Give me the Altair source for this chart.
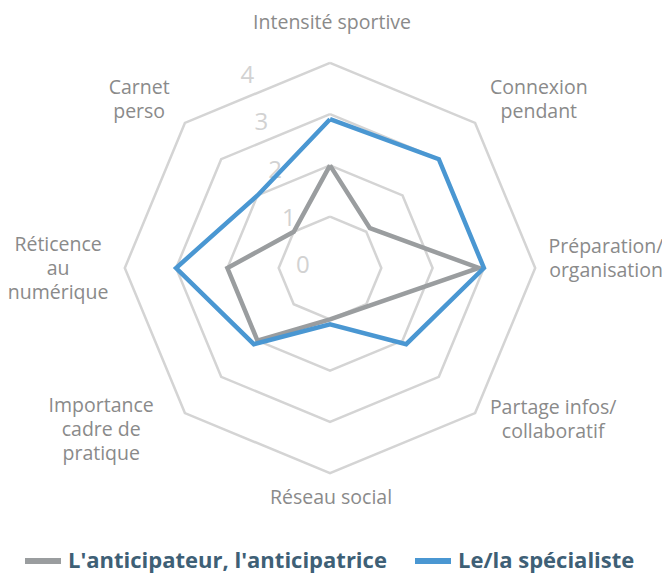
import altair as alt
import pandas as pd

# ---------------- data ----------------
categories = [
    "Intensité sportive",
    "Connexion\npendant",
    "Préparation/\norganisation",
    "Partage infos/\ncollaboratif",
    "Réseau social",
    "Importance\ncadre de\npratique",
    "Réticence\nau\nnumérique",
    "Carnet\nperso",
]
series_names = ["L'anticipateur, l'anticipatrice", "Le/la spécialiste"]
anticipateur = [2.0, 1.1, 2.9, 1.05, 1.0, 2.0, 2.0, 1.0]
specialiste = [2.9, 3.0, 3.0, 2.1, 1.1, 2.1, 3.0, 2.0]
tick_values = [0, 1, 2, 3, 4]

# ---------------- layout ----------------
PX = 51.3            # pixels per unit
W, H = 654, 565
CX, CY = 322, 260    # centre of radar in plot coordinates
xdom = [-CX / PX, (W - CX) / PX]
ydom = [-(H - CY) / PX, CY / PX]
LINE_H = 24
# centre of each category label block, in units (x, y)
label_anchor = [(0.04, 4.78), (4.07, 3.28), (5.38, 0.18), (4.35, -2.96),
                (0.02, -4.48), (-4.46, -3.16), (-5.30, -0.01), (-3.72, 3.28)]

GRAY = "#9a9d9f"
BLUE = "#4a97d2"
FONT = "Open Sans"

n = len(categories)
rows = []
for s, vals in zip(series_names, [anticipateur, specialiste]):
    for i in range(n + 1):
        rows.append({"serie": s, "k": i, "v": vals[i % n]})
lines_df = pd.DataFrame(rows)

ring_df = pd.DataFrame([{"level": lv, "k": i} for lv in tick_values[1:] for i in range(n + 1)])
# first-line position so that each multi-line block is centred on its anchor
lab_df = pd.DataFrame({
    "label": categories,
    "lx": [a[0] for a in label_anchor],
    "ly": [a[1] + (c.count("\n")) * LINE_H / 2 / PX for a, c in zip(label_anchor, categories)],
})
tick_df = pd.DataFrame({"t": tick_values})

xs = alt.Scale(domain=xdom, nice=False, zero=False)
ys = alt.Scale(domain=ydom, nice=False, zero=False)
ang = f"2*PI*datum.k/{n}"

rings = alt.Chart(ring_df).transform_calculate(
    x=f"datum.level*sin({ang})", y=f"datum.level*cos({ang})"
).mark_line(color="#d4d4d4", strokeWidth=2.5, strokeJoin="miter").encode(
    x=alt.X("x:Q", scale=xs, axis=None),
    y=alt.Y("y:Q", scale=ys, axis=None),
    detail="level:N",
    order="k:Q",
)

lines = alt.Chart(lines_df).transform_calculate(
    x=f"datum.v*sin({ang})", y=f"datum.v*cos({ang})"
).mark_line(strokeWidth=4.5, strokeJoin="miter").encode(
    x=alt.X("x:Q", scale=xs, axis=None),
    y=alt.Y("y:Q", scale=ys, axis=None),
    color=alt.Color("serie:N", scale=alt.Scale(domain=series_names, range=[GRAY, BLUE]),
                    legend=alt.Legend(title=None, orient="none", legendX=14, legendY=532,
                                      direction="horizontal")),
    order="k:Q",
)

tick_labels = alt.Chart(tick_df).transform_calculate(
    x="-0.53-0.27*datum.t", y="0.93*datum.t+0.03"
).mark_text(font=FONT, fontSize=24, color="#d2d2d2", align="center", baseline="middle").encode(
    x=alt.X("x:Q", scale=xs, axis=None),
    y=alt.Y("y:Q", scale=ys, axis=None),
    text="t:Q",
)

cat_labels = alt.Chart(lab_df).mark_text(
    font=FONT, fontSize=19.5, color="#8a8a8a", align="center", baseline="middle",
    lineBreak="\n", lineHeight=LINE_H
).encode(
    x=alt.X("lx:Q", scale=xs, axis=None),
    y=alt.Y("ly:Q", scale=ys, axis=None),
    text="label:N",
)

chart = alt.layer(rings, tick_labels, lines, cat_labels).properties(
    width=W, height=H, autosize=alt.AutoSizeParams(type="none"), padding=0
).configure_view(stroke=None).configure_legend(
    symbolType="stroke", symbolSize=1296, symbolStrokeWidth=6,
    labelFont=FONT, labelFontSize=22, labelFontWeight="bold", labelColor="#3e6076",
    labelOffset=4, columnPadding=16, padding=0, labelLimit=500,
)

chart.save("out.html", embed_options={"renderer": "svg", "actions": False})
